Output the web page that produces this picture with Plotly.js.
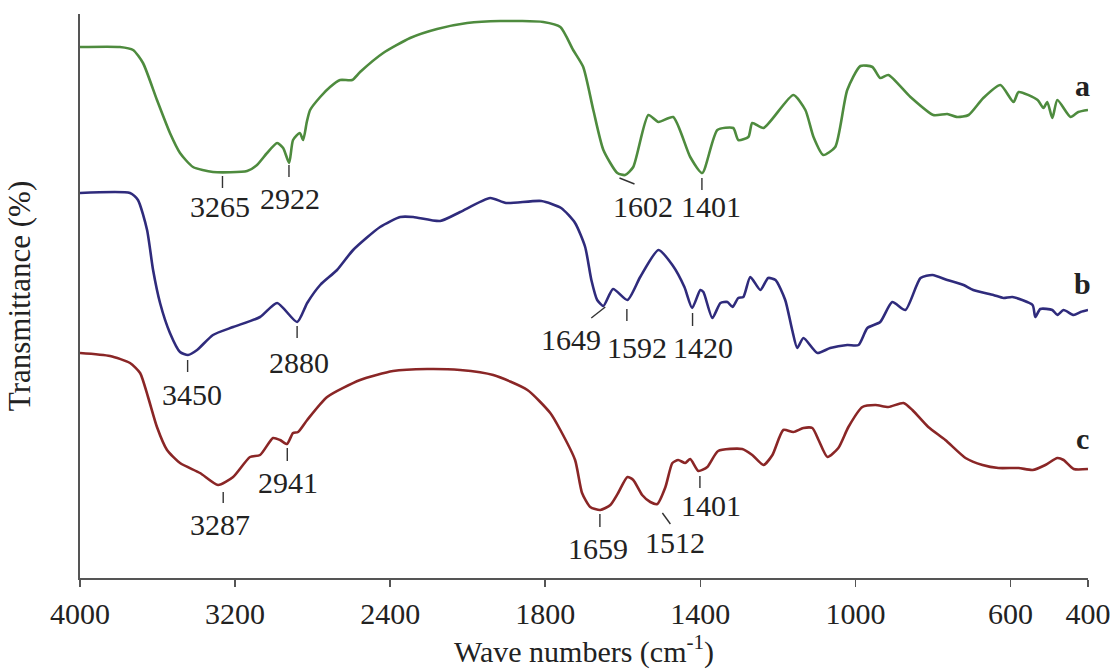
<!DOCTYPE html>
<html>
<head>
<meta charset="utf-8">
<script src="https://cdn.plot.ly/plotly-3.0.1.min.js"></script>
<style>
  html, body { margin: 0; padding: 0; background: #ffffff; }
  #chart { width: 1113px; height: 669px; }
</style>
</head>
<body>
<div id="chart"></div>
<script>
// ---------- data (wavenumber in cm-1, transmittance in %) ----------
const waveA = [4000,3794,3726,3675,3603,3536,3484,3417,3314,3138,3087,3035,2983,2952,2921,2901,2866,2849,2830,2813,2761,2710,2658,2596,2555,2436,2297,2158,2003,1916,1805,1761,1728,1702,1676,1650,1614,1594,1573,1534,1508,1470,1426,1395,1356,1315,1302,1276,1266,1237,1160,1129,1108,1083,1052,1021,987,956,936,915,858,799,763,737,708,670,626,592,579,530,515,505,492,479,445,425,400];
const transA = [53.1,53.1,52.8,51.5,47.8,44.5,42.5,41.1,40.6,40.7,41.3,42.5,43.5,43.0,41.5,43.8,44.5,43.8,45.6,46.8,48.1,49.1,49.8,49.8,50.6,52.5,54.0,54.9,55.5,55.7,55.6,55.1,52.8,51.1,46.8,42.8,40.5,40.3,41.1,46.3,45.6,46.1,42.1,40.5,44.8,45.0,43.8,44.1,45.5,45.0,48.3,46.8,44.1,42.3,43.1,48.8,51.2,51.1,50.0,50.3,48.1,46.3,46.4,46.1,46.3,48.0,49.3,47.6,48.6,47.8,47.0,47.6,46.0,47.8,46.1,46.6,46.8];

const waveB = [4000,3742,3701,3654,3623,3587,3536,3484,3443,3396,3314,3210,3071,2983,2880,2828,2761,2674,2591,2452,2348,2281,2142,2039,1942,1901,1810,1759,1723,1697,1681,1666,1650,1625,1588,1555,1508,1472,1441,1421,1400,1392,1369,1348,1330,1317,1302,1289,1271,1245,1225,1206,1181,1163,1150,1134,1098,1065,1021,992,969,936,905,871,832,801,763,721,696,644,618,595,543,536,523,492,479,463,437,419,400];
const transB = [38.5,38.5,37.8,34.8,30.8,27.5,24.5,22.6,22.3,22.8,24.3,25.1,26.1,27.5,25.6,27.5,29.3,30.8,32.8,35.1,36.1,36.1,35.7,36.6,38.0,37.5,37.7,37.0,35.5,33.1,29.8,27.8,27.2,28.9,27.8,30.1,32.8,31.3,29.1,27.0,28.8,28.6,26.0,27.5,27.6,27.1,28.0,28.1,30.1,28.8,30.0,29.8,27.8,24.8,23.0,24.0,22.5,23.0,23.3,23.3,25.0,25.6,27.6,26.8,30.0,30.3,29.8,29.3,28.8,28.3,28.0,28.1,27.3,26.1,26.9,26.8,26.3,26.8,26.3,26.6,26.8];

const waveC = [4000,3845,3742,3690,3649,3603,3551,3484,3381,3288,3210,3123,3071,3004,2968,2932,2901,2875,2828,2725,2555,2385,2209,2039,1934,1846,1787,1761,1723,1705,1684,1658,1632,1612,1588,1573,1550,1529,1511,1490,1472,1457,1439,1426,1405,1382,1354,1292,1266,1237,1214,1186,1160,1134,1111,1095,1072,1044,1018,982,948,915,876,853,812,768,716,672,631,579,543,510,479,463,437,400];
const transC = [22.5,22.2,21.5,20.5,18.1,15.1,12.8,11.5,10.5,9.3,10.1,12.1,12.3,14.0,13.8,13.4,14.5,14.6,15.8,18.1,19.8,20.7,20.9,20.8,20.3,18.8,16.5,14.8,11.8,8.5,7.1,6.8,7.3,8.5,10.1,9.8,8.3,7.6,7.4,9.1,11.5,11.8,11.5,11.9,10.7,11.1,12.7,12.9,12.3,11.3,12.3,14.8,14.6,15.0,15.0,13.8,12.1,13.0,15.1,17.1,17.3,17.1,17.5,16.8,15.1,13.8,12.0,11.3,11.0,11.0,10.8,11.3,12.0,11.8,10.9,10.9];

const seriesNames = ['a', 'b', 'c'];
const tickWave = [4000, 3200, 2400, 1800, 1400, 1000, 600, 400];
const tickLabels = ['4000', '3200', '2400', '1800', '1400', '1000', '600', '400'];

const peaksA = [3265, 2922, 1602, 1401];
const peaksB = [3450, 2880, 1649, 1592, 1420];
const peaksC = [3287, 2941, 1659, 1512, 1401];

// ---------- axis scale: spectrometer x-axis, doubled scale below 2000 cm-1 ----------
function toAxis(w) { return w >= 2000 ? (4000 - w) / 800 : 2.5 + (2000 - w) / 400; }

// ---------- placement of the peak labels ----------
// tx: pixel x offsets of the marker line ends, ty: its ends in data units
// dx: pixel shift of the label text, y: label centre in data units
const labelPlacement = {
  a: [
    { tx: [0, 0],      ty: [40.2, 39.0], dx: -2,  y: 37.2 },
    { tx: [0, 0],      ty: [41.3, 40.1], dx: 1,   y: 38.0 },
    { tx: [-2.5, 12.5],ty: [40.0, 39.4], dx: 21,  y: 37.2 },
    { tx: [2, 2],      ty: [40.0, 38.8], dx: 11,  y: 37.2 }
  ],
  b: [
    { tx: [1, 1],      ty: [21.8, 20.6], dx: 5,   y: 18.4 },
    { tx: [0, 0],      ty: [25.2, 24.0], dx: 2,   y: 21.6 },
    { tx: [1.5, -12.5],ty: [27.1, 26.0], dx: -33, y: 23.9 },
    { tx: [1, 1],      ty: [26.9, 25.7], dx: 11,  y: 23.1 },
    { tx: [0, 0],      ty: [26.5, 25.2], dx: 10,  y: 23.1 }
  ],
  c: [
    { tx: [5, 5],      ty: [8.6, 7.5],   dx: 2,   y: 5.4 },
    { tx: [2, 2],      ty: [13.0, 11.7], dx: 3,   y: 9.6 },
    { tx: [0, 0],      ty: [6.4, 5.1],   dx: -2,  y: 3.0 },
    { tx: [5.5, 13.5], ty: [6.5, 5.4],   dx: 18,  y: 3.6 },
    { tx: [0, 0],      ty: [10.2, 9.0],  dx: 11,  y: 7.3 }
  ]
};
const seriesLabelY = { a: 49.3, b: 29.5, c: 14.0 };

const colors = { a: '#4e8b3e', b: '#2f2b7c', c: '#8a2626' };
const serif = 'Liberation Serif, Times New Roman, serif';
const textColor = '#222222';
const labelSize = 30;

const allWave = { a: waveA, b: waveB, c: waveC };
const allTrans = { a: transA, b: transB, c: transC };
const allPeaks = { a: peaksA, b: peaksB, c: peaksC };

const traces = seriesNames.map(k => ({
  type: 'scatter',
  mode: 'lines',
  name: k,
  x: allWave[k].map(toAxis),
  y: allTrans[k],
  line: { color: colors[k], width: 2.6, shape: 'spline', smoothing: 0.6 },
  hoverinfo: 'skip'
}));

const shapes = [];
const annotations = [];
seriesNames.forEach(k => {
  allPeaks[k].forEach((p, i) => {
    const pl = labelPlacement[k][i];
    shapes.push({
      type: 'line', xref: 'x', yref: 'y', xsizemode: 'pixel', xanchor: toAxis(p),
      x0: pl.tx[0], x1: pl.tx[1], y0: pl.ty[0], y1: pl.ty[1],
      line: { color: '#333333', width: 1.4 }
    });
    annotations.push({
      xref: 'x', yref: 'y', x: toAxis(p), y: pl.y, xshift: pl.dx,
      text: String(p), showarrow: false, xanchor: 'center', yanchor: 'middle',
      font: { family: serif, size: labelSize, color: textColor }
    });
  });
  annotations.push({
    xref: 'x', yref: 'y', x: toAxis(415), y: seriesLabelY[k],
    text: '<b>' + k + '</b>', showarrow: false, xanchor: 'center', yanchor: 'middle',
    font: { family: serif, size: labelSize, color: textColor }
  });
});

const layout = {
  width: 1113, height: 669,
  margin: { l: 80, r: 25, t: 14, b: 91 },
  paper_bgcolor: '#ffffff', plot_bgcolor: '#ffffff',
  showlegend: false,
  xaxis: {
    range: [0, 6.5],
    tickmode: 'array',
    tickvals: tickWave.map(toAxis),
    ticktext: tickLabels,
    ticks: 'outside', ticklen: 7, tickwidth: 1.5, tickcolor: '#555555',
    ticklabelstandoff: 1,
    showline: true, linecolor: '#555555', linewidth: 2,
    showgrid: false, zeroline: false, mirror: false,
    tickfont: { family: serif, size: labelSize, color: textColor },
    title: { text: 'Wave numbers (cm<sup>-1</sup>)', font: { family: serif, size: 30, color: textColor }, standoff: 8 }
  },
  yaxis: {
    range: [0, 56.4],
    showticklabels: false, ticks: '',
    showline: true, linecolor: '#555555', linewidth: 2,
    showgrid: false, zeroline: false,
    title: { text: 'Transmittance (%)', font: { family: serif, size: 31, color: textColor }, standoff: 38 }
  },
  shapes: shapes,
  annotations: annotations
};

Plotly.newPlot('chart', traces, layout, { staticPlot: true, displayModeBar: false });
</script>
</body>
</html>
